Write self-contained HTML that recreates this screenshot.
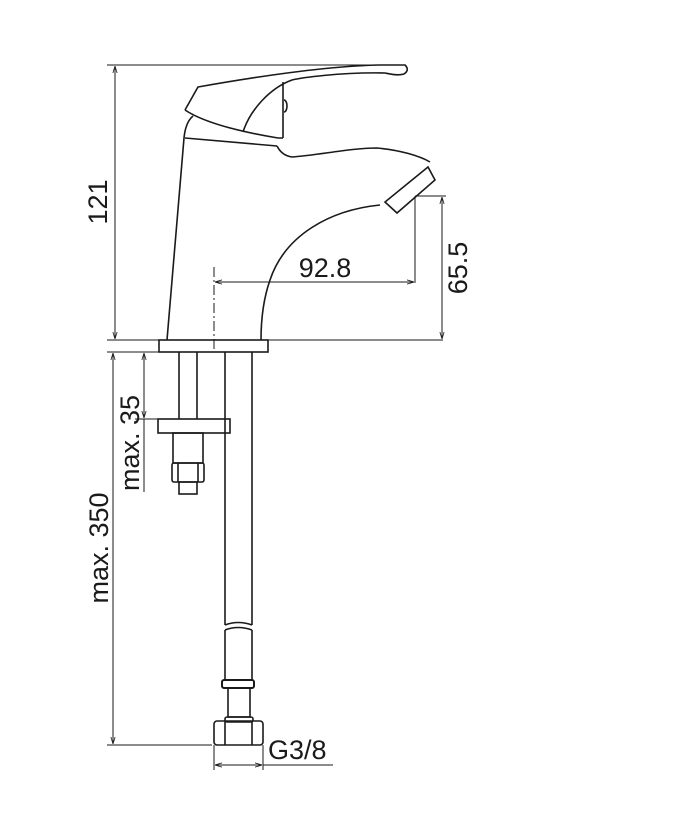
<!DOCTYPE html>
<html><head><meta charset="utf-8"><style>
html,body{margin:0;padding:0;background:#fff;}
svg{display:block}
text{font-family:"Liberation Sans",sans-serif;font-size:27px;fill:#1a1a1a}
</style></head><body>
<svg width="678" height="832" viewBox="0 0 678 832" xmlns="http://www.w3.org/2000/svg">
<defs>
<marker id="a" viewBox="0 0 10 10" refX="10" refY="5" markerWidth="7" markerHeight="7" orient="auto-start-reverse"><path d="M0,2 L10,5 L0,8" fill="none" stroke="#222" stroke-width="1.2"/></marker>
</defs>
<g fill="none" stroke="#1a1a1a" stroke-width="1.6">
<line x1="107" y1="65" x2="400" y2="65" stroke-width="1"/>
<line x1="115" y1="66" x2="115" y2="339" stroke-width="1" marker-start="url(#a)" marker-end="url(#a)"/>
<line x1="107" y1="340" x2="443" y2="340" stroke-width="1"/>
<line x1="415" y1="196" x2="446" y2="196" stroke-width="1"/>
<line x1="442" y1="197" x2="442" y2="339" stroke-width="1" marker-start="url(#a)" marker-end="url(#a)"/>
<line x1="415" y1="196" x2="415" y2="283" stroke-width="1"/>
<line x1="215" y1="282" x2="414" y2="282" stroke-width="1" marker-start="url(#a)" marker-end="url(#a)"/>
<line x1="214" y1="267" x2="214" y2="352" stroke-width="1" stroke-dasharray="10,3,2,3"/>
<path d="M185,110 L198,87 C260,76 330,66 380,65 L405,65 Q410,70 404,74 C398,76 390,74 385,73 C340,72 300,78 292,80 C270,88 250,110 243,132"/>
<path d="M185,110 C200,120 230,130 278,138"/>
<path d="M283,82 L283,138 M278,138 L283,138"/>
<path d="M284,100 a3,6 0 0 1 0,12" />
<path d="M167,340 L184,138 C185,128 188,120 193,116"/>
<path d="M185,138 L277,146"/>
<path d="M277,146 C280,152 285,156 292,157 C320,155 350,148 377,148 C400,150 420,156 430,162"/>
<path d="M428,167 L435,180 L397,213 L385,202 Z"/>
<path d="M380,205 C330,210 285,235 270,280 C263,300 261,320 261,340"/>
<rect x="159" y="340" width="109" height="12"/>
<line x1="179" y1="352" x2="179" y2="419"/>
<line x1="197" y1="352" x2="197" y2="419"/>
<rect x="158" y="419" width="72" height="14"/>
<rect x="173" y="433" width="30" height="30"/>
<rect x="172" y="463" width="32" height="19" rx="2"/>
<path d="M178,463 V482 M198,463 V482"/>
<rect x="179" y="482" width="18" height="12"/>
<line x1="225" y1="352" x2="225" y2="625"/>
<line x1="252" y1="352" x2="252" y2="625"/>
<path d="M225,625 Q238,620 252,625 M225,630 Q238,625 252,630"/>
<line x1="225" y1="630" x2="225" y2="680"/>
<line x1="252" y1="630" x2="252" y2="680"/>
<rect x="222" y="680" width="32" height="8" rx="2" stroke-width="2"/>
<rect x="228" y="688" width="22" height="29"/>
<rect x="225" y="717" width="28" height="5" rx="2"/>
<rect x="214" y="721" width="49" height="24" rx="3"/>
<path d="M225,721 V745 M252,721 V745"/>
<line x1="107" y1="352" x2="160" y2="352" stroke-width="1"/>
<line x1="113" y1="353" x2="113" y2="744" stroke-width="1" marker-start="url(#a)" marker-end="url(#a)"/>
<line x1="107" y1="745" x2="212" y2="745" stroke-width="1"/>
<line x1="144" y1="353" x2="144" y2="418" stroke-width="1" marker-start="url(#a)" marker-end="url(#a)"/>
<line x1="144" y1="419" x2="144" y2="492" stroke-width="1"/>
<line x1="135" y1="419" x2="160" y2="419" stroke-width="1"/>
<line x1="214" y1="745" x2="214" y2="770" stroke-width="1"/>
<line x1="263" y1="745" x2="263" y2="770" stroke-width="1"/>
<line x1="215" y1="765" x2="262" y2="765" stroke-width="1" marker-start="url(#a)" marker-end="url(#a)"/>
<line x1="263" y1="765" x2="333" y2="765" stroke-width="1"/>
</g>
<text x="325" y="277" text-anchor="middle">92.8</text>
<text x="268" y="759">G3/8</text>
<text transform="translate(107,202) rotate(-90)" text-anchor="middle">121</text>
<text transform="translate(467,268) rotate(-90)" text-anchor="middle">65.5</text>
<text transform="translate(139,443) rotate(-90)" text-anchor="middle">max. 35</text>
<text transform="translate(108,548) rotate(-90)" text-anchor="middle">max. 350</text>
</svg>
</body></html>
